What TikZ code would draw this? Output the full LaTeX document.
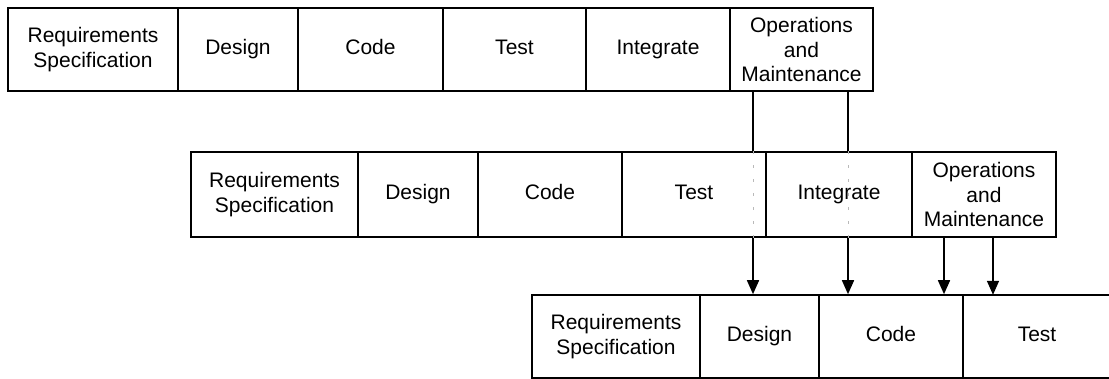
\documentclass[tikz,border=0pt]{standalone}
\usepackage{fontspec}
\setmainfont{Liberation Sans}
\usetikzlibrary{arrows.meta}

\begin{document}
\begin{tikzpicture}[x=1pt,y=-1pt,
    cell/.style={draw, line width=1.6pt, inner sep=0pt, align=center,
      font=\fontsize{21}{24.3}\selectfont},
    opencell/.style={inner sep=0pt, align=center,
      font=\fontsize{21}{24.3}\selectfont},
    edge/.style={line width=1.6pt},
    link/.style={line width=1.6pt, -{Triangle[width=12pt,length=14pt]}},
    hidden/.style={line width=0.8pt, gray!55, dash pattern=on 3pt off 11pt}]
  \useasboundingbox (0,0) rectangle (1109,379);

  % first release
  \node[cell, minimum width=170pt, minimum height=83pt] (r1) at (93,49.5) {Requirements\\Specification};
  \node[cell, minimum width=120pt, minimum height=83pt] (d1) at (238,49.5) {\strut Design};
  \node[cell, minimum width=145pt, minimum height=83pt] (c1) at (370.5,49.5) {\strut Code};
  \node[cell, minimum width=143pt, minimum height=83pt] (t1) at (514.5,49.5) {\strut Test};
  \node[cell, minimum width=144pt, minimum height=83pt] (i1) at (658,49.5) {\strut Integrate};
  \node[cell, minimum width=143pt, minimum height=83pt] (o1) at (801.5,49.5) {Operations\\and\\Maintenance};

  % second release
  \node[cell, minimum width=167pt, minimum height=85pt] (r2) at (274.5,194.5) {Requirements\\Specification};
  \node[cell, minimum width=120pt, minimum height=85pt] (d2) at (418,194.5) {\strut Design};
  \node[cell, minimum width=144pt, minimum height=85pt] (c2) at (550,194.5) {\strut Code};
  \node[cell, minimum width=144pt, minimum height=85pt] (t2) at (694,194.5) {\strut Test};
  \node[cell, minimum width=146pt, minimum height=85pt] (i2) at (839,194.5) {\strut Integrate};
  \node[cell, minimum width=144pt, minimum height=85pt] (o2) at (984,194.5) {Operations\\and\\Maintenance};

  % third release
  \node[cell, minimum width=168pt, minimum height=83pt] (r3) at (616,336.5) {Requirements\\Specification};
  \node[cell, minimum width=119pt, minimum height=83pt] (d3) at (759.5,336.5) {\strut Design};
  \node[cell, minimum width=144pt, minimum height=83pt] (c3) at (891,336.5) {\strut Code};
  \node[opencell, minimum width=148pt, minimum height=83pt] (t3) at (1037,336.5) {\strut Test};
  \draw[edge] (t3.north west) -- (t3.north east);
  \draw[edge] (t3.south west) -- (t3.south east);

  % feedback paths
  \coordinate (xa) at (753,0);
  \coordinate (xb) at (848,0);
  \coordinate (xc) at (944,0);
  \coordinate (xd) at (993,0);

  \draw[edge] (o1.south -| xa) -- (t2.north -| xa);
  \draw[hidden] (t2.north -| xa) -- (t2.south -| xa);
  \draw[link] (t2.south -| xa) -- (d3.north -| xa);

  \draw[edge] (o1.south -| xb) -- (i2.north -| xb);
  \draw[hidden] (i2.north -| xb) -- (i2.south -| xb);
  \draw[link] (i2.south -| xb) -- (c3.north -| xb);

  \draw[link] (o2.south -| xc) -- (c3.north -| xc);
  \draw[link] (o2.south -| xd) -- (t3.north -| xd);
\end{tikzpicture}
\end{document}
